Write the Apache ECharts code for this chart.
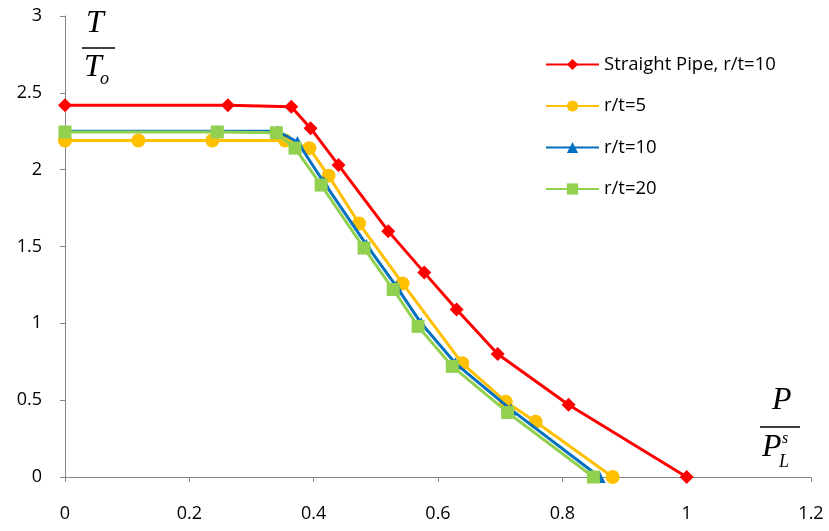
<!DOCTYPE html>
<html><head><meta charset="utf-8">
<script src="https://cdn.jsdelivr.net/npm/echarts@6/dist/echarts.min.js"></script>
<style>html,body{margin:0;padding:0;background:#fff}#c{width:829px;height:531px}</style>
</head><body><div id="c"></div>
<script>
const seriesNames = ['Straight Pipe, r/t=10', 'r/t=5', 'r/t=10', 'r/t=20'];
const straightX = [0, 0.262, 0.364, 0.395, 0.440, 0.520, 0.578, 0.630, 0.696, 0.810, 1.0];
const straightY = [2.42, 2.42, 2.41, 2.27, 2.03, 1.60, 1.33, 1.09, 0.80, 0.47, 0];
const rt5X = [0, 0.118, 0.237, 0.354, 0.393, 0.424, 0.473, 0.543, 0.639, 0.709, 0.757, 0.881];
const rt5Y = [2.19, 2.19, 2.19, 2.19, 2.14, 1.96, 1.65, 1.26, 0.74, 0.49, 0.36, 0];
const rt10X = [0, 0.245, 0.342, 0.374, 0.416, 0.485, 0.533, 0.573, 0.628, 0.717, 0.860];
const rt10Y = [2.25, 2.25, 2.25, 2.18, 1.92, 1.51, 1.24, 1.00, 0.74, 0.44, 0];
const rt20X = [0, 0.245, 0.340, 0.370, 0.412, 0.481, 0.528, 0.568, 0.623, 0.712, 0.850];
const rt20Y = [2.245, 2.245, 2.24, 2.14, 1.90, 1.49, 1.22, 0.98, 0.72, 0.42, 0];
const xTicks = ['0', '0.2', '0.4', '0.6', '0.8', '1', '1.2'];
const yTicks = ['0', '0.5', '1', '1.5', '2', '2.5', '3'];

const zip = (xs, ys) => xs.map((x, i) => [x, ys[i]]);
const colors = ['#FF0000', '#FFC000', '#0070C0', '#92D050'];
const symbols = ['diamond', 'circle', 'triangle', 'rect'];
const sizes = [14, 14, 12, 13];
const datas = [zip(straightX, straightY), zip(rt5X, rt5Y), zip(rt10X, rt10Y), zip(rt20X, rt20Y)];

const chart = echarts.init(document.getElementById('c'));
const font = 'Open Sans, Noto Sans, sans-serif';
const axisCommon = {
  axisLine: { show: true, lineStyle: { color: '#868686', width: 1 } },
  axisTick: { show: true, inside: false, length: 5, lineStyle: { color: '#868686' } },
  splitLine: { show: false },
  axisLabel: { color: '#000', fontSize: 18, fontFamily: font }
};
chart.setOption({
  animation: false,
  backgroundColor: '#fff',
  grid: { left: 65, right: 18, top: 16, bottom: 54, containLabel: false },
  xAxis: Object.assign({ type: 'value', min: 0, max: 1.2, interval: 0.2 }, axisCommon, {
    axisLabel: Object.assign({}, axisCommon.axisLabel, { margin: 28, formatter: (v) => xTicks[Math.round(v / 0.2)] })
  }),
  yAxis: Object.assign({ type: 'value', min: 0, max: 3, interval: 0.5 }, axisCommon, {
    axisLabel: Object.assign({}, axisCommon.axisLabel, { margin: 23, formatter: (v) => yTicks[Math.round(v / 0.5)] })
  }),
  legend: {
    orient: 'vertical', left: 540, top: 50, itemWidth: 53, itemHeight: 14, itemGap: 22.5,
    textStyle: { color: '#000', fontSize: 18.5, fontFamily: font },
    data: seriesNames.map((n) => ({ name: n })),
  },
  series: datas.map((d, i) => ({
    name: seriesNames[i], type: 'line', data: d, symbol: symbols[i], symbolSize: sizes[i],
    showAllSymbol: true,
    lineStyle: { color: colors[i], width: 3 }, itemStyle: { color: colors[i] }, z: 2 + i
  })),
  graphic: [
    { type: 'text', left: 86, top: 8, style: { text: 'T', font: 'italic 32px "Liberation Serif", serif', fill: '#000' } },
    { type: 'line', shape: { x1: 82, y1: 48, x2: 115, y2: 48 }, style: { stroke: '#000', lineWidth: 1.5 } },
    { type: 'text', left: 84, top: 52, style: { text: 'T', font: 'italic 32px "Liberation Serif", serif', fill: '#000' } },
    { type: 'text', left: 100, top: 70, style: { text: 'o', font: 'italic 18px "Liberation Serif", serif', fill: '#000' } },
    { type: 'text', left: 772, top: 385, style: { text: 'P', font: 'italic 32px "Liberation Serif", serif', fill: '#000' } },
    { type: 'line', shape: { x1: 760, y1: 427, x2: 800, y2: 427 }, style: { stroke: '#000', lineWidth: 1.5 } },
    { type: 'text', left: 762, top: 432, style: { text: 'P', font: 'italic 32px "Liberation Serif", serif', fill: '#000' } },
    { type: 'text', left: 779, top: 453, style: { text: 'L', font: 'italic 18px "Liberation Serif", serif', fill: '#000' } },
    { type: 'text', left: 782, top: 431, style: { text: 's', font: 'italic 16px "Liberation Serif", serif', fill: '#000' } }
  ]
});
</script></body></html>
